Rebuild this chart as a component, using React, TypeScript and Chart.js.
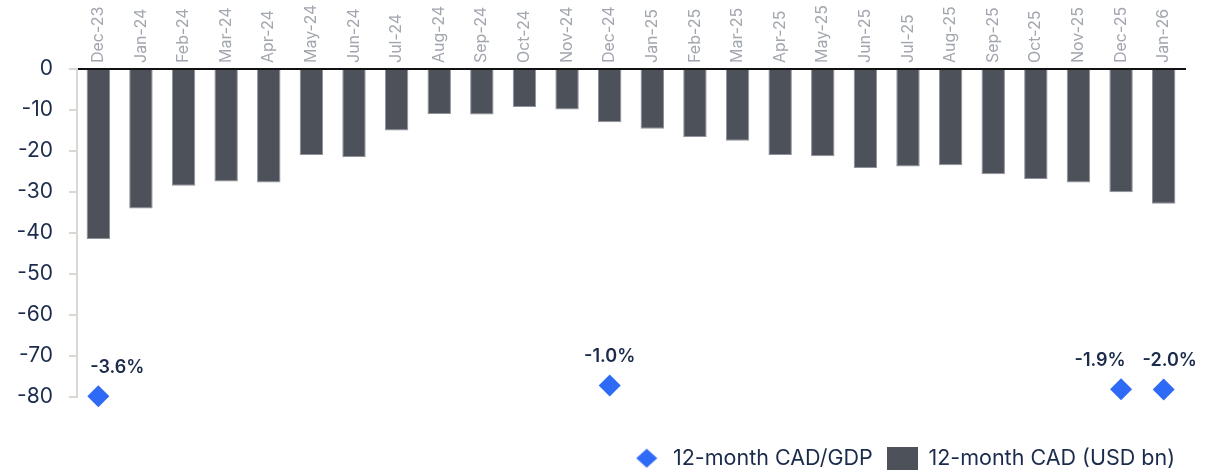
import React, { useEffect, useRef } from 'react';
import { Chart, registerables } from 'chart.js';

Chart.register(...registerables);

// ---------- data ----------
const months = [
  'Dec-23', 'Jan-24', 'Feb-24', 'Mar-24', 'Apr-24', 'May-24', 'Jun-24', 'Jul-24', 'Aug-24',
  'Sep-24', 'Oct-24', 'Nov-24', 'Dec-24', 'Jan-25', 'Feb-25', 'Mar-25', 'Apr-25', 'May-25',
  'Jun-25', 'Jul-25', 'Aug-25', 'Sep-25', 'Oct-25', 'Nov-25', 'Dec-25', 'Jan-26',
];

// 12-month current account deficit, USD bn
const cadUsdBn = [
  -41.5, -34.1, -28.5, -27.5, -27.7, -21.0, -21.5, -15.0, -11.0,
  -11.1, -9.3, -9.9, -13.0, -14.6, -16.6, -17.5, -21.0, -21.3,
  -24.2, -23.8, -23.5, -25.7, -26.9, -27.7, -30.1, -32.9,
];

// 12-month CAD / GDP, %
const cadGdpPct: (number | null)[] = [
  -3.6, null, null, null, null, null, null, null, null,
  null, null, null, -1.0, null, null, null, null, null,
  null, null, null, null, null, null, -1.9, -2.0,
];

const seriesNames = ['12-month CAD/GDP', '12-month CAD (USD bn)'];
const yAxisMin = -80;
const yAxisMax = 0;
const yAxisStep = 10;

// ---------- styles ----------
const FONT = 'Inter, "Noto Sans", sans-serif';
const NAVY = '#1b2b4b';
const BAR = '#4d515a';
const BLUE = '#2f6af7';
const AXIS_GREY = '#d9d9d4';
const XLABEL_GREY = '#a2a6ae';

// horizontal nudges of the % labels (style only)
const LABEL_DX: Record<string, number> = { 'Dec-23': 19, 'Dec-24': 0, 'Dec-25': -21, 'Jan-26': 6 };

function makeDiamond(): HTMLCanvasElement {
  const c = document.createElement('canvas');
  c.width = 22;
  c.height = 20;
  const g = c.getContext('2d')!;
  g.fillStyle = BLUE;
  g.beginPath();
  g.moveTo(11, 0.5);
  g.lineTo(21.5, 10);
  g.lineTo(11, 19.5);
  g.lineTo(0.5, 10);
  g.closePath();
  g.fill();
  return c;
}

function makeSquare(): HTMLCanvasElement {
  const c = document.createElement('canvas');
  c.width = 31;
  c.height = 23;
  const g = c.getContext('2d')!;
  g.fillStyle = BAR;
  g.fillRect(0, 0, 31, 23);
  return c;
}

const pctLabelPlugin = {
  id: 'pctLabels',
  afterDatasetsDraw(chart: any) {
    const meta = chart.getDatasetMeta(0);
    const ctx = chart.ctx;
    ctx.save();
    ctx.font = `600 18px ${FONT}`;
    ctx.fillStyle = NAVY;
    ctx.textAlign = 'center';
    ctx.textBaseline = 'middle';
    meta.data.forEach((pt: any, i: number) => {
      const v = cadGdpPct[i];
      if (v == null) return;
      const dx = LABEL_DX[months[i]] ?? 0;
      ctx.fillText(`${v.toFixed(1)}%`, pt.x + dx, pt.y - 29);
    });
    ctx.restore();
  },
};

export default function App() {
  const ref = useRef<HTMLCanvasElement | null>(null);

  useEffect(() => {
    if (!ref.current) return;
    const diamond = makeDiamond();
    const square = makeSquare();

    const chart = new Chart(ref.current, {
      type: 'bar',
      data: {
        labels: months,
        datasets: [
          {
            type: 'line',
            label: seriesNames[0],
            data: cadGdpPct,
            yAxisID: 'y2',
            showLine: false,
            pointStyle: 'rectRot',
            pointRadius: 11,
            pointBackgroundColor: BLUE,
            pointBorderWidth: 0,
            borderColor: BLUE,
            backgroundColor: BLUE,
            order: 0,
            clip: false,
          } as any,
          {
            type: 'bar',
            label: seriesNames[1],
            data: cadUsdBn,
            yAxisID: 'y',
            backgroundColor: BAR,
            borderColor: '#8e929a',
            borderWidth: 1,
            categoryPercentage: 1,
            barPercentage: 0.55,
            order: 1,
          },
        ],
      },
      options: {
        responsive: true,
        maintainAspectRatio: false,
        animation: false,
        layout: { padding: { top: 0, left: 0, right: 36, bottom: -7 } },
        plugins: {
          tooltip: { enabled: false },
          legend: {
            position: 'bottom',
            align: 'end',
            title: { display: true, text: '', padding: { top: 11, bottom: 0 }, font: { size: 25 } },
            labels: {
              usePointStyle: true,
              pointStyleWidth: 31,
              padding: 10,
              color: NAVY,
              font: { family: FONT, size: 21.5 },
              generateLabels: (ch: any) => {
                const items = Chart.defaults.plugins.legend.labels.generateLabels(ch);
                return items.map((it: any) => ({
                  ...it,
                  text: it.datasetIndex === 0 ? it.text + '\u2009' : it.text,
                  pointStyle: it.datasetIndex === 0 ? diamond : square,
                  lineWidth: 0,
                }));
              },
            },
          },
        },
        scales: {
          x: {
            position: 'top',
            grid: { display: false, drawTicks: false },
            border: { display: true, color: '#111111', width: 2 },
            ticks: {
              color: XLABEL_GREY,
              font: { family: FONT, size: 16 },
              minRotation: 90,
              maxRotation: 90,
              autoSkip: false,
              padding: 6,
              labelOffset: 19,
            },
            afterFit: (s: any) => {
              s.height = 69;
            },
          },
          y: {
            min: yAxisMin,
            max: yAxisMax,
            grid: {
              drawOnChartArea: false,
              drawTicks: true,
              tickLength: 8,
              color: AXIS_GREY,
              lineWidth: 2,
            },
            border: { display: true, color: AXIS_GREY, width: 2 },
            ticks: {
              stepSize: yAxisStep,
              color: NAVY,
              font: { family: FONT, size: 21 },
              padding: 16,
            },
            afterFit: (s: any) => {
              s.width = 77;
            },
          },
          y2: {
            display: false,
            min: -3.65,
            max: 74.5,
          },
        },
      },
      plugins: [pctLabelPlugin],
    });

    return () => chart.destroy();
  }, []);

  return (
    <div style={{ position: 'absolute', left: 0, top: 0, width: 1221, height: 472 }}>
      <canvas ref={ref} />
    </div>
  );
}
